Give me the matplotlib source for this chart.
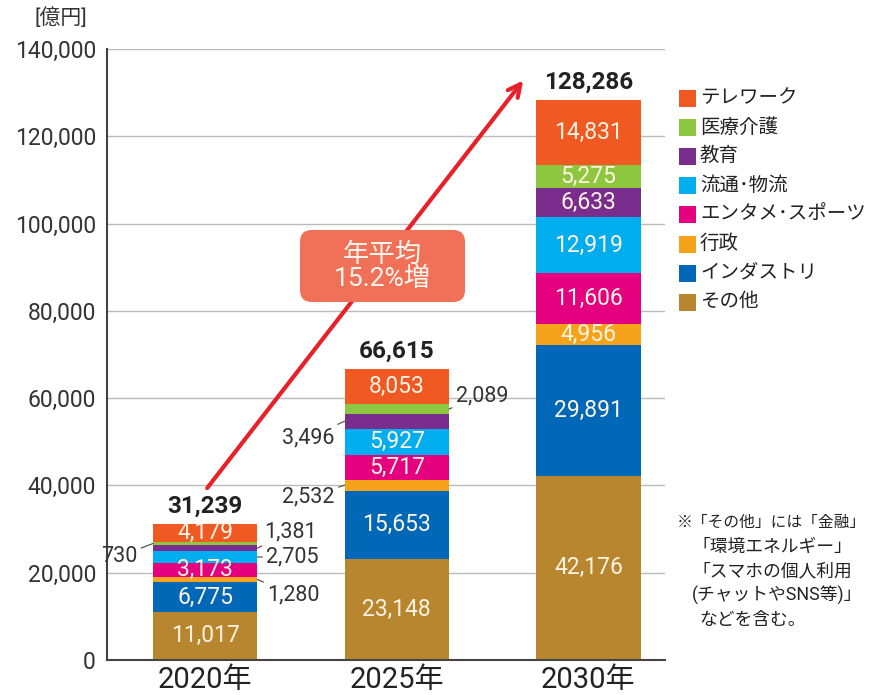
import matplotlib
matplotlib.use('Agg')
import matplotlib.pyplot as plt
import numpy as np
from matplotlib.patches import FancyBboxPatch, Rectangle
from matplotlib.transforms import IdentityTransform

plt.rcParams['font.family'] = ['Roboto', 'Noto Sans CJK JP', 'DejaVu Sans']

# データ (億円) - 下から積み上げ順
years = ['2020年', '2025年', '2030年']
categories = ['その他', 'インダストリ', '行政', 'エンタメ･スポーツ',
              '流通･物流', '教育', '医療介護', 'テレワーク']
colors = ['#B8862F', '#0068B7', '#F7A21B', '#E5007F',
          '#00AEEF', '#7B2D8E', '#8DC63F', '#F05A22']
sonota = [11017, 23148, 42176]
industry = [6775, 15653, 29891]
gyosei = [1280, 2532, 4956]
entame = [3173, 5717, 11606]
ryutsu = [2705, 5927, 12919]
kyoiku = [1381, 3496, 6633]
iryo = [730, 2089, 5275]
telework = [4179, 8053, 14831]
totals = ['31,239', '66,615', '128,286']
series = [sonota, industry, gyosei, entame, ryutsu, kyoiku, iryo, telework]

# 外側ラベル (系列番号, 年番号, 側, オフセットpx)
outside = [
    (2, 0, 'right', (10, -15)),
    (4, 0, 'right', (9, 0)),
    (5, 0, 'right', (7, 16)),
    (6, 0, 'left', (-16, -13)),
    (2, 1, 'left', (-10, -12)),
    (5, 1, 'left', (-10, -17)),
    (6, 1, 'right', (7, 13)),
]

fig = plt.figure(figsize=(8.81, 6.95), dpi=100)
ax = fig.add_axes([107 / 881, 1 - 660 / 695, (665 - 107) / 881, (660 - 49) / 695])

x = np.arange(len(years))
width = 0.545
bottom = np.zeros(len(years))
mids = []
for vals, col in zip(series, colors):
    vals = np.array(vals, dtype=float)
    ax.bar(x, vals, width, bottom=bottom, color=col, zorder=3)
    mids.append(bottom + vals / 2)
    bottom = bottom + vals
mids = np.array(mids)

outside_keys = {(s, y) for s, y, _, _ in outside}
for si, vals in enumerate(series):
    for yi, v in enumerate(vals):
        if (si, yi) in outside_keys:
            continue
        ax.text(x[yi], mids[si][yi], f'{v:,}', ha='center', va='center',
                color='#FFF3E3', fontsize=16.5, zorder=4)

for si, yi, side, off in outside:
    v = series[si][yi]
    ex = x[yi] + (width / 2 if side == 'right' else -width / 2)
    ax.annotate(f'{v:,}', xy=(ex, mids[si][yi]), xytext=off,
                textcoords='offset pixels', ha='left' if side == 'right' else 'right',
                va='center', fontsize=15.5, color='#333333', zorder=5,
                arrowprops=dict(arrowstyle='-', color='#555555', lw=0.9,
                                shrinkA=1, shrinkB=0))

for yi, t in enumerate(totals):
    ax.annotate(t, xy=(x[yi], bottom[yi]), xytext=(0, 6), textcoords='offset pixels',
                ha='center', va='bottom', fontsize=17.5, fontweight='bold', color='#222222')

# 成長の矢印
ax.annotate('', xy=(1.66, 132800), xytext=(0.01, 39400),
            arrowprops=dict(arrowstyle='->,head_length=0.9,head_width=0.45',
                            color='#E8202A', lw=3, shrinkA=0, shrinkB=0), zorder=6)

box = FancyBboxPatch((300, 695 - 302), 165, 72,
                     boxstyle='round,pad=0,rounding_size=12',
                     transform=IdentityTransform(), facecolor='#F07058',
                     edgecolor='none', zorder=7)
fig.add_artist(box)
fig.text(382 / 881, 1 - 267 / 695, '年平均\n15.2%増', ha='center', va='center',
         color='#FFF6EE', fontsize=19, linespacing=1.0, zorder=8)

ax.set_xlim(-0.513, 2.4)
ax.set_ylim(0, 140000)
ax.set_yticks(np.arange(0, 140001, 20000))
ax.set_yticklabels([f'{v:,}' for v in range(0, 140001, 20000)])
ax.set_xticks(x)
ax.set_xticklabels(years)
ax.tick_params(axis='y', length=0, pad=8, labelsize=16.5, labelcolor='#333333')
ax.tick_params(axis='x', length=0, pad=4, labelsize=21, labelcolor='#222222')
ax.grid(axis='y', color='#BBBBBB', lw=1, zorder=0)
for s in ['top', 'right']:
    ax.spines[s].set_visible(False)
for s in ['left', 'bottom']:
    ax.spines[s].set_color('#444444')
    ax.spines[s].set_linewidth(1.5)
    ax.spines[s].set_zorder(4)

fig.text(61 / 881, 1 - 18 / 695, '[億円]', ha='center', va='center',
         fontsize=15, color='#333333')

# 凡例
for i, (cat, col) in enumerate(zip(categories[::-1], colors[::-1])):
    yc = 98 + i * 29.1
    fig.add_artist(Rectangle((679, 695 - yc - 9), 17, 17, transform=IdentityTransform(),
                             facecolor=col, edgecolor='none'))
    fig.text(700 / 881, 1 - yc / 695, cat, ha='left', va='center',
             fontsize=14, color='#222222')

note = ['※「その他」には「金融」', '「環境エネルギー」', '「スマホの個人利用',
        '(チャットやSNS等)」', 'などを含む。']
for i, line in enumerate(note):
    xp = 677 if i == 0 else (692 if i < 4 else 699)
    fs = 11.3 if i == 0 else 12.8
    fig.text(xp / 881, 1 - (522 + i * 24.5) / 695, line, ha='left', va='center',
             fontsize=fs, color='#222222')

fig.savefig('out.png', dpi=100)
